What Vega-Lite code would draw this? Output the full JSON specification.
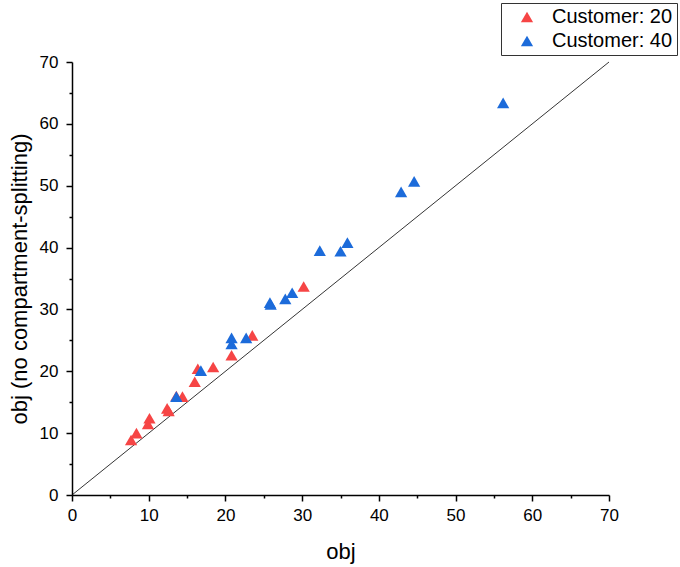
{
  "$schema": "https://vega.github.io/schema/vega-lite/v6.json",
  "autosize": "none",
  "width": 537,
  "height": 433,
  "padding": {"left": 72, "top": 62, "right": 71, "bottom": 72},
  "background": "white",
  "config": {
    "view": {"stroke": null},
    "font": "Liberation Sans"
  },
  "encoding": {
    "x": {"field": "obj", "type": "quantitative", "scale": {"domain": [0, 70], "nice": false},
      "axis": {"title": "obj", "grid": false, "domainColor": "black", "domainWidth": 1.5, "tickColor": "black", "tickWidth": 1.5, "labelColor": "black", "labelFontSize": 17, "titleFontSize": 22, "titleFontWeight": "normal", "titleColor": "black", "labelFont": "Liberation Sans", "titleFont": "Liberation Sans",
        "values": [0,5,10,15,20,25,30,35,40,45,50,55,60,65,70], "labelExpr": "datum.value % 10 === 0 ? datum.label : ''", "tickSize": {"condition": {"test": "datum.value % 10 === 0", "value": 6}, "value": 3}, "labelPadding": 6, "titlePadding": 18, "labelFlush": false}},
    "y": {"field": "obj_nc", "type": "quantitative", "scale": {"domain": [0, 70], "nice": false},
      "axis": {"title": "obj (no compartment-splitting)", "grid": false, "domainColor": "black", "domainWidth": 1.5, "tickColor": "black", "tickWidth": 1.5, "labelColor": "black", "labelFontSize": 17, "titleFontSize": 22, "titleFontWeight": "normal", "titleColor": "black", "labelFont": "Liberation Sans", "titleFont": "Liberation Sans",
        "values": [0,5,10,15,20,25,30,35,40,45,50,55,60,65,70], "labelExpr": "datum.value % 10 === 0 ? datum.label : ''", "tickSize": {"condition": {"test": "datum.value % 10 === 0", "value": 6}, "value": 3}, "labelPadding": 8, "titlePadding": 8, "labelFlush": false}}
  },
  "layer": [
    {
      "data": {"values": [{"obj": 0, "obj_nc": 0}, {"obj": 70, "obj_nc": 70}]},
      "mark": {"type": "line", "color": "black", "strokeWidth": 0.8}
    },
    {
      "data": {"values": [
        {"obj": 7.7, "obj_nc": 8.9, "customer": "20"},
        {"obj": 8.4, "obj_nc": 10.0, "customer": "20"},
        {"obj": 9.9, "obj_nc": 11.5, "customer": "20"},
        {"obj": 10.1, "obj_nc": 12.4, "customer": "20"},
        {"obj": 12.4, "obj_nc": 14.0, "customer": "20"},
        {"obj": 12.6, "obj_nc": 13.6, "customer": "20"},
        {"obj": 13.6, "obj_nc": 16.0, "customer": "20"},
        {"obj": 14.4, "obj_nc": 15.9, "customer": "20"},
        {"obj": 16.0, "obj_nc": 18.3, "customer": "20"},
        {"obj": 16.4, "obj_nc": 20.4, "customer": "20"},
        {"obj": 18.4, "obj_nc": 20.7, "customer": "20"},
        {"obj": 20.8, "obj_nc": 22.6, "customer": "20"},
        {"obj": 23.5, "obj_nc": 25.8, "customer": "20"},
        {"obj": 30.2, "obj_nc": 33.7, "customer": "20"},
        {"obj": 13.6, "obj_nc": 15.9, "customer": "40"},
        {"obj": 16.8, "obj_nc": 20.1, "customer": "40"},
        {"obj": 20.8, "obj_nc": 24.4, "customer": "40"},
        {"obj": 20.8, "obj_nc": 25.4, "customer": "40"},
        {"obj": 22.7, "obj_nc": 25.4, "customer": "40"},
        {"obj": 25.8, "obj_nc": 31.1, "customer": "40"},
        {"obj": 25.9, "obj_nc": 30.8, "customer": "40"},
        {"obj": 27.8, "obj_nc": 31.7, "customer": "40"},
        {"obj": 28.7, "obj_nc": 32.7, "customer": "40"},
        {"obj": 32.3, "obj_nc": 39.5, "customer": "40"},
        {"obj": 35.0, "obj_nc": 39.4, "customer": "40"},
        {"obj": 35.9, "obj_nc": 40.8, "customer": "40"},
        {"obj": 42.9, "obj_nc": 49.0, "customer": "40"},
        {"obj": 44.6, "obj_nc": 50.7, "customer": "40"},
        {"obj": 56.2, "obj_nc": 63.4, "customer": "40"}
      ]},
      "mark": {"type": "point", "shape": "triangle-up", "filled": true, "opacity": 1, "size": 150},
      "encoding": {
        "color": {"field": "customer", "type": "nominal", "scale": {"domain": ["20", "40"], "range": ["#F64545", "#1C6BDA"]},
          "legend": {"title": null, "orient": "none", "legendX": 429, "legendY": -59, "symbolType": "triangle-up", "symbolSize": 150, "labelExpr": "'Customer: ' + datum.label", "labelFontSize": 20, "labelColor": "black", "labelFont": "Liberation Sans", "strokeColor": "#333", "padding": 4, "symbolOffset": 12, "rowPadding": 4, "labelOffset": 15, "symbolOpacity": 1, "offset": 0}}
      }
    }
  ]
}
